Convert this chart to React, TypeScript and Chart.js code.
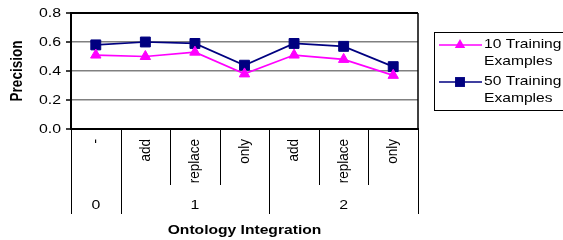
import React, { useEffect, useRef } from 'react';
import { Chart, registerables } from 'chart.js';

Chart.register(...registerables);

const categories = ['-', 'add', 'replace', 'only', 'add', 'replace', 'only'];
const groupLabels = ['0', '1', '2'];
const groupSizes = [1, 3, 3];
const series10 = [0.51, 0.50, 0.53, 0.38, 0.51, 0.48, 0.37];
const series50 = [0.58, 0.60, 0.59, 0.44, 0.59, 0.57, 0.43];
const yTicks = [0, 0.2, 0.4, 0.6, 0.8];
const seriesLabels = ['10 Training Examples', '50 Training Examples'];
const legendLines = [['10 Training', 'Examples'], ['50 Training', 'Examples']];
const xTitle = 'Ontology Integration';
const yTitle = 'Precision';

const PINK = '#FF00FF';
const NAVY = '#000080';
const FONT = "'Liberation Sans', Arial, sans-serif";

function stretchedText(
  ctx: CanvasRenderingContext2D,
  s: string,
  x: number,
  y: number,
  align: CanvasTextAlign,
  sx: number,
  rotated: boolean
) {
  ctx.save();
  ctx.translate(x, y);
  ctx.scale(sx, 1);
  if (rotated) ctx.rotate(-Math.PI / 2);
  ctx.textAlign = align;
  ctx.textBaseline = 'middle';
  ctx.fillText(s, 0, 0);
  ctx.restore();
}

const overlayPlugin = {
  id: 'overlay',
  afterDraw(chart: any) {
    const ctx: CanvasRenderingContext2D = chart.ctx;
    const area = chart.chartArea;
    const xs = chart.scales.x;
    const ys = chart.scales.y;
    ctx.save();

    // frame
    ctx.strokeStyle = '#000';
    ctx.lineWidth = 2;
    ctx.beginPath();
    ctx.moveTo(area.left, area.top);
    ctx.lineTo(area.right, area.top);
    ctx.moveTo(area.left, area.top - 1);
    ctx.lineTo(area.left, area.bottom + 1);
    ctx.moveTo(area.left, area.bottom);
    ctx.lineTo(area.right + 1, area.bottom);
    ctx.stroke();
    ctx.lineWidth = 1.5;
    ctx.beginPath();
    ctx.moveTo(area.right, area.top);
    ctx.lineTo(area.right, area.bottom);
    ctx.stroke();

    // y tick marks and labels
    ctx.fillStyle = '#000';
    ctx.font = `13px ${FONT}`;
    ctx.lineWidth = 1.5;
    yTicks.forEach((v) => {
      const py = ys.getPixelForValue(v);
      ctx.beginPath();
      ctx.moveTo(area.left - 5, py);
      ctx.lineTo(area.left, py);
      ctx.stroke();
      stretchedText(ctx, v.toFixed(1), area.left - 10, py, 'right', 1.22, false);
    });

    // y title
    ctx.font = `bold 13.5px ${FONT}`;
    stretchedText(ctx, yTitle, 18, (area.top + area.bottom) / 2, 'center', 1.2, true);

    // category labels
    ctx.font = `13.5px ${FONT}`;
    categories.forEach((c, i) => {
      const px = xs.getPixelForValue(i);
      stretchedText(ctx, c, px, area.bottom + 10, 'right', 1.12, true);
    });

    // separators and group labels
    const boundary = (i: number) => {
      if (i <= 0) return area.left;
      if (i >= categories.length) return area.right;
      return (xs.getPixelForValue(i - 1) + xs.getPixelForValue(i)) / 2;
    };
    ctx.lineWidth = 1;
    const groupStarts: number[] = [];
    let acc = 0;
    groupSizes.forEach((g) => {
      groupStarts.push(acc);
      acc += g;
    });
    for (let i = 0; i <= categories.length; i++) {
      const isGroupEdge = i === categories.length || groupStarts.includes(i);
      const bx = Math.round(boundary(i)) + 0.5;
      ctx.beginPath();
      ctx.moveTo(bx, area.bottom);
      ctx.lineTo(bx, isGroupEdge ? area.bottom + 85 : area.bottom + 56);
      ctx.stroke();
    }
    ctx.font = `13px ${FONT}`;
    groupLabels.forEach((g, gi) => {
      const s = groupStarts[gi];
      const e = s + groupSizes[gi];
      const cx = (boundary(s) + boundary(e)) / 2;
      stretchedText(ctx, g, cx, area.bottom + 76, 'center', 1.22, false);
    });

    // x title
    ctx.font = `bold 12.5px ${FONT}`;
    stretchedText(ctx, xTitle, (area.left + area.right) / 2, area.bottom + 102, 'center', 1.25, false);

    // legend
    ctx.lineWidth = 1;
    ctx.strokeStyle = '#000';
    ctx.strokeRect(434.5, 32.5, 200, 78);
    const colors = [PINK, NAVY];
    const ly = [45, 82];
    chart.data.datasets.forEach((ds: any, i: number) => {
      const y = ly[i];
      ctx.strokeStyle = colors[i];
      ctx.fillStyle = colors[i];
      ctx.lineWidth = 1.7;
      ctx.beginPath();
      ctx.moveTo(439, y);
      ctx.lineTo(482, y);
      ctx.stroke();
      const r = ds.pointRadius;
      const cx = 460;
      ctx.beginPath();
      if (ds.pointStyle === 'triangle') {
        ctx.moveTo(cx, y - r);
        ctx.lineTo(cx + Math.sin((2 * Math.PI) / 3) * r, y + r / 2);
        ctx.lineTo(cx - Math.sin((2 * Math.PI) / 3) * r, y + r / 2);
        ctx.closePath();
      } else {
        const h = Math.SQRT1_2 * r;
        ctx.rect(cx - h, y - h, 2 * h, 2 * h);
      }
      ctx.fill();
      ctx.fillStyle = '#000';
      ctx.font = `13px ${FONT}`;
      stretchedText(ctx, legendLines[i][0], 484, y - 1, 'left', 1.2, false);
      stretchedText(ctx, legendLines[i][1], 484, y + 16, 'left', 1.2, false);
    });

    ctx.restore();
  },
};

export default function App() {
  const ref = useRef<HTMLCanvasElement>(null);

  useEffect(() => {
    document.body.style.margin = '0';
    const canvas = ref.current;
    if (!canvas) return;
    const chart = new Chart(canvas, {
      type: 'line',
      data: {
        labels: categories,
        datasets: [
          {
            label: seriesLabels[0],
            data: series10,
            borderColor: PINK,
            backgroundColor: PINK,
            borderWidth: 1.7,
            pointStyle: 'triangle',
            pointRadius: 6,
            pointBorderWidth: 1,
            pointBackgroundColor: PINK,
            pointBorderColor: PINK,
            tension: 0,
          },
          {
            label: seriesLabels[1],
            data: series50,
            borderColor: NAVY,
            backgroundColor: NAVY,
            borderWidth: 1.7,
            pointStyle: 'rect',
            pointRadius: 7,
            pointBorderWidth: 1,
            pointBackgroundColor: NAVY,
            pointBorderColor: NAVY,
            tension: 0,
          },
        ],
      },
      options: {
        animation: false,
        responsive: false,
        maintainAspectRatio: false,
        layout: { padding: { left: 0, top: 13, right: 145, bottom: 111 } },
        plugins: { legend: { display: false }, tooltip: { enabled: false } },
        scales: {
          x: { type: 'category', offset: true, display: false },
          y: {
            min: 0,
            max: 0.8,
            afterFit: (s: any) => {
              s.width = 71;
            },
            ticks: { stepSize: 0.2, display: false },
            grid: {
              color: (c: any) =>
                c.tick && (c.tick.value === 0 || Math.abs(c.tick.value - 0.8) < 1e-6)
                  ? 'rgba(0,0,0,0)'
                  : '#808080',
              lineWidth: 1.5,
              drawTicks: false,
            },
            border: { display: false },
          },
        },
      },
      plugins: [overlayPlugin],
    });
    return () => chart.destroy();
  }, []);

  return (
    <div style={{ position: 'absolute', left: 0, top: 0, width: 563, height: 240, background: '#fff' }}>
      <canvas ref={ref} width={563} height={240} style={{ width: 563, height: 240, display: 'block' }} />
    </div>
  );
}
